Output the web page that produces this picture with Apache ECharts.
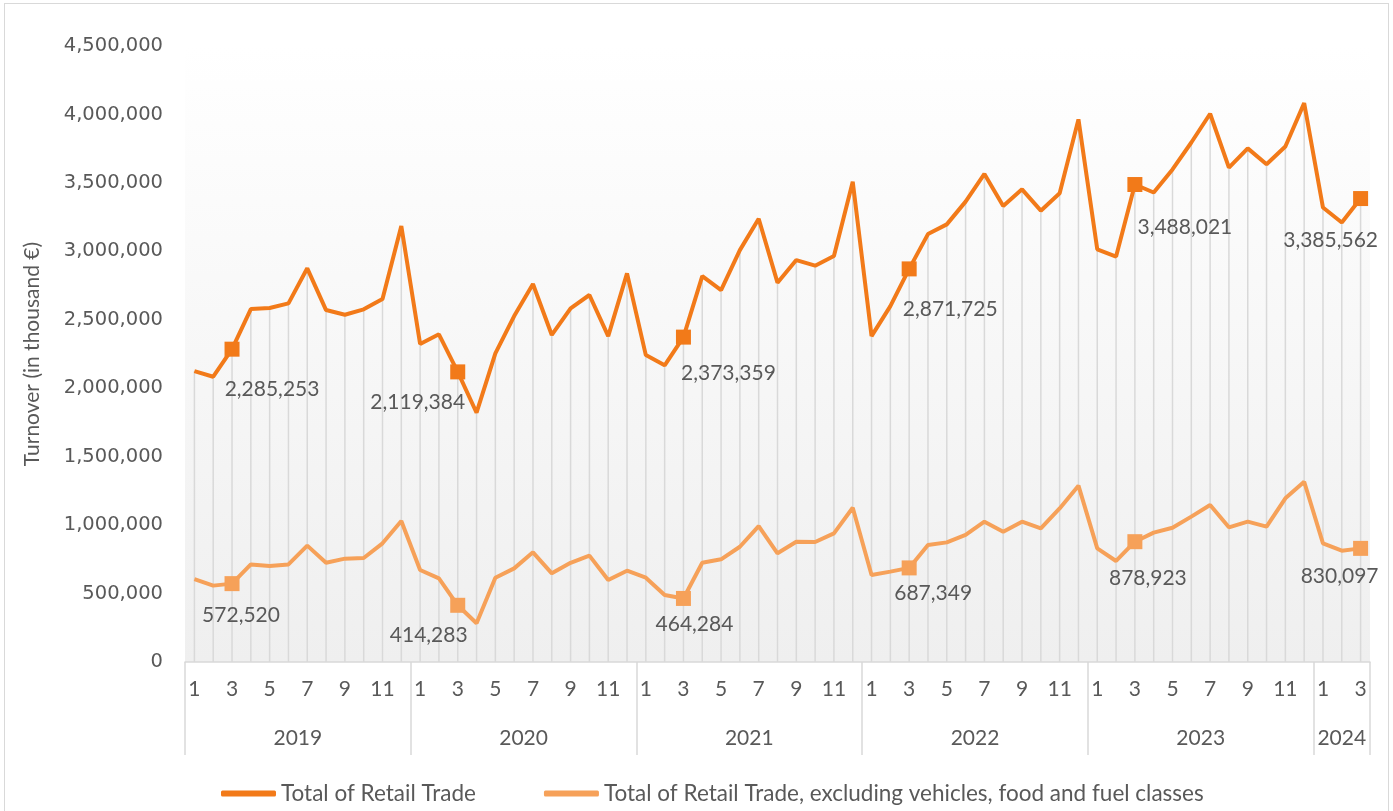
<!DOCTYPE html>
<html>
<head>
<meta charset="utf-8">
<script src="https://cdn.jsdelivr.net/npm/echarts@6/dist/echarts.min.js"></script>
<style>
  html, body { margin: 0; padding: 0; background: #ffffff; }
  #chart { position: absolute; left: 0; top: 0; width: 1393px; height: 811px; }
  #frame { position: absolute; left: 4px; top: 3px; width: 1385px; height: 812px; border: 1px solid #d9d9d9; pointer-events: none; box-sizing: border-box; }
</style>
</head>
<body>
<div id="chart"></div>
<div id="frame"></div>
<script>
// ---- Data ----
const years = [2019, 2020, 2021, 2022, 2023, 2024];
const monthsPerYear = [12, 12, 12, 12, 12, 3];

const totalRetail = [
  2125000, 2084000, 2285253, 2578000, 2586000, 2620000, 2876000, 2571000, 2537000, 2576000, 2652000, 3185000,
  2323000, 2394000, 2119384, 1821000, 2255000, 2527000, 2761000, 2389000, 2584000, 2681000, 2381000, 2839000,
  2242000, 2167000, 2373359, 2819000, 2717000, 3009000, 3238000, 2771000, 2936000, 2895000, 2966000, 3508000,
  2381000, 2600000, 2871725, 3126000, 3197000, 3363000, 3565000, 3331000, 3453000, 3297000, 3424000, 3964000,
  3015000, 2962000, 3488021, 3430000, 3598000, 3795000, 4005000, 3612000, 3752000, 3636000, 3766000, 4083000,
  3320000, 3211000, 3385562
];

const retailExcl = [
  606000, 558000, 572520, 713000, 701000, 713000, 850000, 725000, 755000, 760000, 867000, 1030000,
  672000, 611000, 414283, 283000, 616000, 684000, 801000, 648000, 725000, 777000, 599000, 667000,
  616000, 489000, 464284, 725000, 750000, 842000, 993000, 794000, 879000, 877000, 940000, 1127000,
  635000, 660000, 687349, 855000, 874000, 928000, 1025000, 952000, 1025000, 976000, 1122000, 1288000,
  830000, 738000, 878923, 945000, 981000, 1062000, 1147000, 984000, 1025000, 989000, 1196000, 1317000,
  867000, 813000, 830097
];

const seriesNames = ['Total of Retail Trade', 'Total of Retail Trade, excluding vehicles, food and fuel classes'];
const yTicks = { min: 0, max: 4500000, interval: 500000 };
const highlightMonth = 3;

// ---- Build categories ----
const catMonth = [];
const catYear = [];
years.forEach((y, yi) => {
  for (let m = 1; m <= monthsPerYear[yi]; m++) { catMonth.push(m); catYear.push(y); }
});
const categories = catMonth.map((m, i) => catYear[i] + '-' + m);

// label offsets (style) for the highlighted March points, per year
const upperLabelOffsets = [[40, 8], [-40, -2], [45, 4], [41, 8], [50, 11], [-30, 10]];
const lowerLabelOffsets = [[9, 0], [-29, -2], [11, -6], [24, -7], [13, 5], [-21, -4]];

const C1 = '#F27A19';
const C2 = '#F6A159';
const TXT = '#595959';
const FONT = 'Lato, "Open Sans", sans-serif';

function buildItems(values, offsets) {
  return values.map((v, i) => {
    if (catMonth[i] === highlightMonth) {
      const yi = years.indexOf(catYear[i]);
      return {
        value: v,
        symbol: 'rect',
        label: { show: true, position: 'bottom', distance: 14, offset: offsets[yi] }
      };
    }
    return { value: v, symbol: 'none' };
  });
}

// middle label positions for year axis
const yearLabelIdx = {};
let start = 0;
years.forEach((y, yi) => {
  const n = monthsPerYear[yi];
  const mid = start + Math.floor((n - 1) / 2);
  yearLabelIdx[mid] = { year: y, even: n % 2 === 0 };
  start += n;
});

const chart = echarts.init(document.getElementById('chart'), null, { renderer: 'canvas' });
const gridLeft = 185, gridRight = 23;
const bandW = (1393 - gridLeft - gridRight) / categories.length;

chart.setOption({
  animation: false,
  textStyle: { fontFamily: FONT },
  grid: {
    left: gridLeft, right: gridRight, top: 46, bottom: 149,
    show: true, borderWidth: 0,
    backgroundColor: new echarts.graphic.LinearGradient(0, 0, 0, 1, [
      { offset: 0, color: '#ffffff' },
      { offset: 1, color: '#efefef' }
    ])
  },
  legend: {
    left: 216, top: 777,
    itemWidth: 55, itemHeight: 6, itemGap: 68,
    icon: 'roundRect',
    textStyle: { fontFamily: FONT, fontSize: 22.5, color: TXT },
    data: seriesNames
  },
  xAxis: [
    {
      type: 'category', data: categories, boundaryGap: true,
      axisLine: { show: true, lineStyle: { color: '#d9d9d9', width: 1.5 } },
      axisTick: { show: true, interval: (idx) => catMonth[idx] === 1, length: 93, lineStyle: { color: '#d9d9d9', width: 1.5 } },
      axisLabel: {
        interval: 1, margin: 17, color: TXT, fontFamily: FONT, fontSize: 21,
        formatter: (v, idx) => String(catMonth[idx])
      }
    },
    {
      type: 'category', data: categories, boundaryGap: true, position: 'bottom',
      axisLine: { show: false }, axisTick: { show: false },
      axisLabel: {
        interval: (idx) => yearLabelIdx[idx] !== undefined,
        margin: 66, color: TXT, fontFamily: FONT, fontSize: 21,
        formatter: (v, idx) => {
          const o = yearLabelIdx[idx];
          if (!o) return '';
          return o.even ? '{s|' + o.year + '}' : '{c|' + o.year + '}';
        },
        rich: {
          s: { padding: [0, 0, 0, bandW], fontFamily: FONT, fontSize: 21, color: TXT },
          c: { fontFamily: FONT, fontSize: 21, color: TXT }
        }
      }
    }
  ],
  yAxis: {
    type: 'value', min: yTicks.min, max: yTicks.max, interval: yTicks.interval,
    name: 'Turnover (in thousand €)', nameLocation: 'middle', nameGap: 142,
    nameTextStyle: { fontFamily: FONT, fontSize: 21, color: TXT },
    axisLine: { show: false }, axisTick: { show: false },
    splitLine: { show: false },
    axisLabel: {
      margin: 22, color: TXT, fontFamily: '"DejaVu Sans", sans-serif', fontSize: 19.5,
      formatter: (v) => v.toLocaleString('en-US')
    }
  },
  series: [
    {
      type: 'bar', data: totalRetail, barWidth: 1.5, silent: true,
      itemStyle: { color: '#d9d9d9' }, z: 1, legendHoverLink: false
    },
    {
      name: seriesNames[0], type: 'line', data: buildItems(totalRetail, upperLabelOffsets),
      symbol: 'rect', symbolSize: 15, showSymbol: true, showAllSymbol: true,
      lineStyle: { color: C1, width: 4 }, itemStyle: { color: C1 },
      label: { color: TXT, fontFamily: FONT, fontSize: 21, formatter: (p) => p.value.toLocaleString('en-US') },
      z: 3
    },
    {
      name: seriesNames[1], type: 'line', data: buildItems(retailExcl, lowerLabelOffsets),
      symbol: 'rect', symbolSize: 15, showSymbol: true, showAllSymbol: true,
      lineStyle: { color: C2, width: 4 }, itemStyle: { color: C2 },
      label: { color: TXT, fontFamily: FONT, fontSize: 21, formatter: (p) => p.value.toLocaleString('en-US') },
      z: 3
    }
  ]
});
</script>
</body>
</html>
